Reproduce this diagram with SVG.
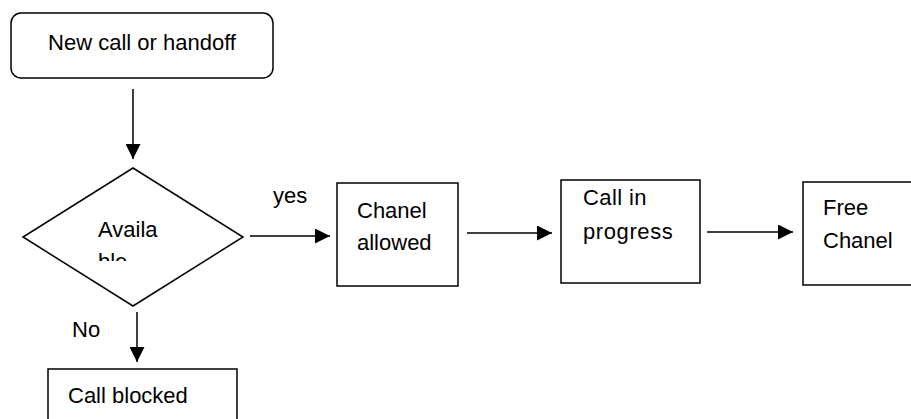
<svg xmlns="http://www.w3.org/2000/svg" width="911" height="419" viewBox="0 0 911 419">
  <style>
    .shape { fill: #fff; stroke: #000; stroke-width: 1.5; }
    .edge { fill: none; stroke: #000; stroke-width: 1.5; }
    text { font-family: "Liberation Sans", Arial, sans-serif; font-size: 22px; fill: #000; }
  </style>
  <defs>
    <marker id="arrow" viewBox="0 0 15 15" refX="15" refY="7.5" markerWidth="15" markerHeight="15" markerUnits="userSpaceOnUse" orient="auto">
      <path d="M0,0 L15,7.5 L0,15 Z" fill="#000"/>
    </marker>
    <clipPath id="diamondText">
      <rect x="60" y="210" width="150" height="51"/>
    </clipPath>
  </defs>
  <rect width="911" height="419" fill="#fff"/>

  <g id="connectors">
    <line class="edge" x1="133" y1="89" x2="133" y2="159" marker-end="url(#arrow)"/>
    <line class="edge" x1="250" y1="236" x2="330" y2="236" marker-end="url(#arrow)"/>
    <line class="edge" x1="467" y1="233" x2="552" y2="233" marker-end="url(#arrow)"/>
    <line class="edge" x1="707" y1="232" x2="793" y2="232" marker-end="url(#arrow)"/>
    <line class="edge" x1="137" y1="312" x2="137" y2="362" marker-end="url(#arrow)"/>
    <text x="273" y="203">yes</text>
    <text x="72" y="337">No</text>
  </g>

  <g id="start">
    <rect class="shape" x="11" y="13" width="262" height="65" rx="10" ry="10"/>
    <text x="142" y="50" text-anchor="middle">New call or handoff</text>
  </g>

  <g id="available">
    <polygon class="shape" points="133,168 243,237 133,306 23,237"/>
    <g clip-path="url(#diamondText)">
      <text x="98" y="237">Availa</text>
      <text x="98" y="269">ble</text>
    </g>
  </g>

  <g id="chanel-allowed">
    <rect class="shape" x="337" y="183" width="121" height="103"/>
    <text x="357" y="218">Chanel</text>
    <text x="357" y="250">allowed</text>
  </g>

  <g id="call-in-progress">
    <rect class="shape" x="561" y="180" width="139" height="103"/>
    <text x="583" y="205" letter-spacing="0.4">Call in</text>
    <text x="583" y="239" letter-spacing="0.6">progress</text>
  </g>

  <g id="free-chanel">
    <rect class="shape" x="803" y="182" width="120" height="103"/>
    <text x="823" y="215">Free</text>
    <text x="823" y="248">Chanel</text>
  </g>

  <g id="call-blocked">
    <rect class="shape" x="48" y="369" width="189" height="70"/>
    <text x="68" y="403">Call blocked</text>
  </g>
</svg>
